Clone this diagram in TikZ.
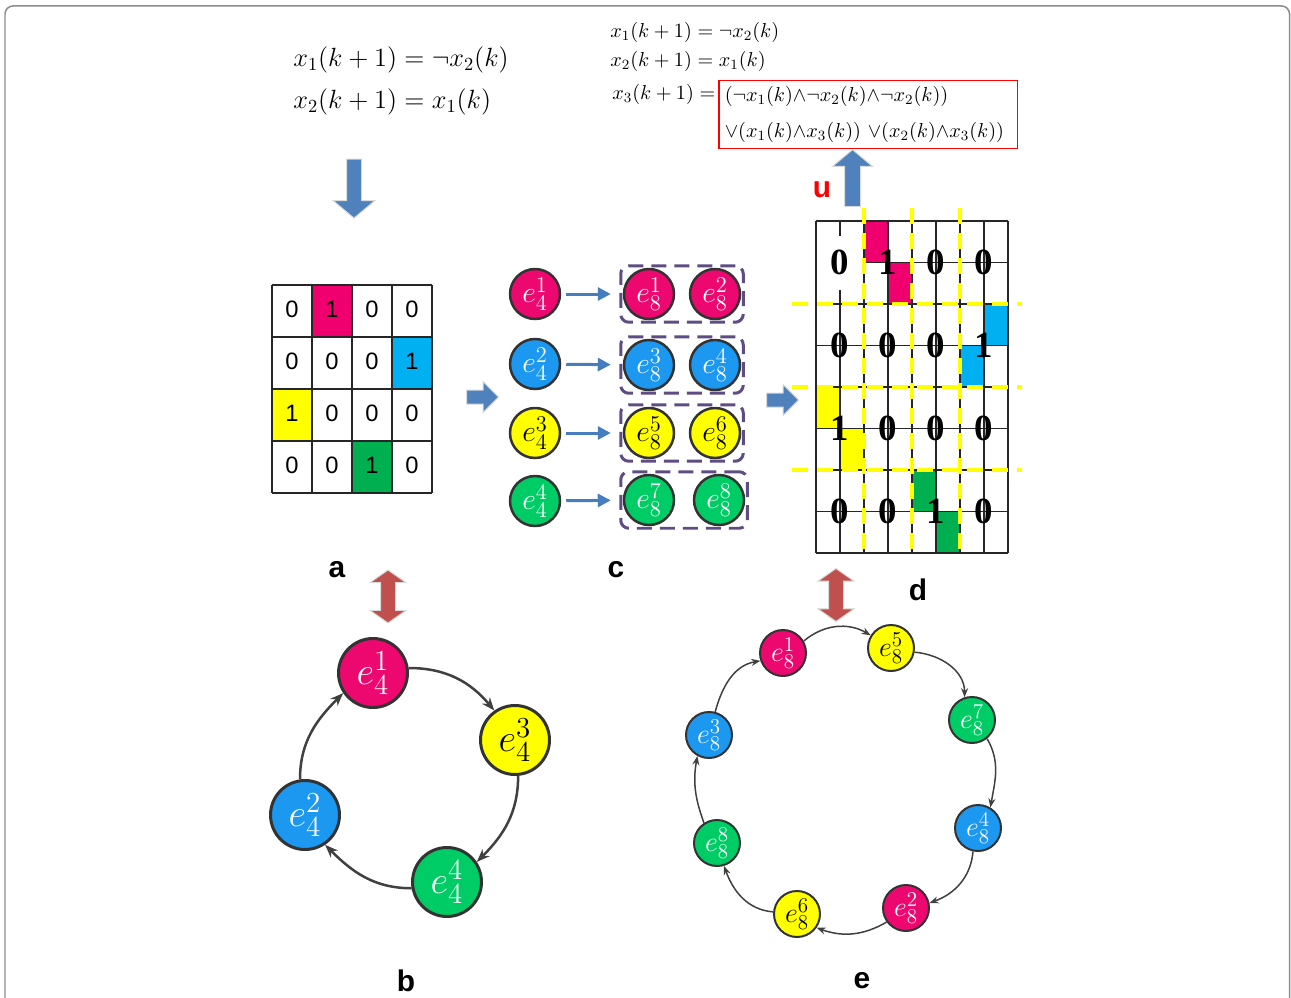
\RequirePackage{fix-cm}
\documentclass[tikz,border=0pt]{standalone}
\usepackage{fontspec}
\setsansfont{Liberation Sans}
\newfontfamily\cellserif{Liberation Serif}
\usetikzlibrary{positioning,fit,arrows.meta,shapes.arrows}
\DeclareMathSizes{22}{22}{16.5}{12}
\DeclareMathSizes{17}{17}{12.8}{10}
\DeclareMathSizes{16}{16}{12}{9}
\definecolor{epink}{RGB}{236,8,110}
\definecolor{eblue}{RGB}{28,152,240}
\definecolor{eyellow}{RGB}{255,255,0}
\definecolor{egreen}{RGB}{0,204,102}
\definecolor{mpink}{RGB}{240,0,110}
\definecolor{mcyan}{RGB}{0,176,240}
\definecolor{mgreen}{RGB}{0,176,80}
\definecolor{arrblue}{RGB}{79,129,189}
\definecolor{arrred}{RGB}{192,80,77}
\definecolor{grpcol}{RGB}{94,76,130}
\definecolor{linkblue}{RGB}{70,125,190}
\begin{document}
\begin{tikzpicture}[x=0.02cm,y=0.02cm,inner sep=0pt,
bignode/.style={circle,draw=black!80,line width=0.06cm,minimum size=1.38cm,font=\fontsize{22}{22}\selectfont},
pairnode/.style={circle,draw=black!80,line width=0.05cm,minimum size=1cm,font=\fontsize{17}{17}\selectfont},
ringnode/.style={circle,draw=black!80,line width=0.04cm,minimum size=0.92cm,font=\fontsize{16}{16}\selectfont},
pk/.style={fill=epink,text=white},bl/.style={fill=eblue,text=white},
yl/.style={fill=eyellow,text=black},gr/.style={fill=egreen,text=white},
grp/.style={draw=grpcol,line width=0.06cm,rounded corners=0.16cm,dash pattern=on 0.3cm off 0.16cm,inner sep=0.04cm},
linkarr/.style={draw=linkblue,line width=0.06cm,-{Triangle[length=0.26cm,width=0.26cm]},shorten <=0.1cm,shorten >=0.24cm},
cycarr/.style={draw=black!75,line width=0.05cm,-{Stealth[length=0.26cm,width=0.2cm]}},
cycarrs/.style={draw=black!75,line width=0.03cm,-{Stealth[length=0.18cm,width=0.14cm]}},
bluearr/.style={single arrow,fill=arrblue,draw=black!15,line width=0.02cm,inner xsep=0pt},
redarr/.style={double arrow,fill=arrred,draw=black!15,line width=0.02cm,inner xsep=0pt,inner ysep=0.14cm,
  double arrow head extend=0.21cm,double arrow tip angle=110,minimum height=1.06cm,rotate=90},
panel/.style={font=\sffamily\bfseries\fontsize{17}{17}\selectfont},
eqbig/.style={anchor=west,font=\fontsize{15}{15}\selectfont},
eqsmall/.style={anchor=west,font=\fontsize{11.5}{12}\selectfont},
cellline/.style={draw=black!85,line width=0.03cm},
yline/.style={draw=eyellow,line width=0.08cm,dash pattern=on 0.32cm off 0.18cm}]
\useasboundingbox (0,0) rectangle (1291,-997);
\draw[gray!90,line width=0.03cm,rounded corners=0.16cm] (5,-6) rectangle (1289.5,-1020);

% equations
\node[eqbig] (p1) at (293,-60) {$x_1(k+1)=\neg x_2(k)$};
\node[eqbig] (p2) at (293,-102) {$x_2(k+1)=x_1(k)$};
\node[eqsmall] (q1) at (610,-32) {$x_1(k+1)=\neg x_2(k)$};
\node[eqsmall] (q2) at (610,-61) {$x_2(k+1)=x_1(k)$};
\node[eqsmall] (q3) at (612,-94) {$x_3(k+1)=$};
\node[draw=red,line width=0.03cm,anchor=north west,inner xsep=0.12cm,text width=5.74cm,minimum height=1.36cm,
  align=left,font=\fontsize{11.5}{12}\selectfont] (rb) at (718,-80)
  {$(\neg x_1(k){\wedge}\neg x_2(k){\wedge}\neg x_2(k))$\\[0.3cm]$\mathord{\vee}(x_1(k){\wedge}x_3(k))\ \mathord{\vee}(x_2(k){\wedge}x_3(k))$};

% block arrows
\node[bluearr,rotate=-90,inner ysep=0.14cm,single arrow head extend=0.27cm,single arrow tip angle=100,minimum height=1.18cm] (dn) at (354,-185.5) {};
\node[bluearr,rotate=90,inner ysep=0.15cm,single arrow head extend=0.24cm,single arrow tip angle=100,minimum height=1.14cm] (up) at (852.5,-181.5) {};
\node[bluearr,inner ysep=0.13cm,single arrow head extend=0.17cm,minimum height=0.64cm] (ra1) at (479,-397) {};
\node[bluearr,inner ysep=0.13cm,single arrow head extend=0.17cm,minimum height=0.64cm] (ra2) at (779,-400) {};
\node[redarr] (rd1) at (388,-596.5) {};
\node[redarr] (rd2) at (836,-595) {};
\node[panel,text=red] (u) at (822,-190) {u};

% matrix a
\foreach \r/\c/\col in {0/1/mpink,1/3/mcyan,2/0/eyellow,3/2/mgreen}
  \fill[\col] ({272+40*\c},{-285-52*\r}) rectangle ++(40,-52);
\foreach \i in {0,...,4} {
  \draw[cellline] ({272+40*\i},-285) -- ({272+40*\i},-493);
  \draw[cellline] (272,{-285-52*\i}) -- (432,{-285-52*\i});
}
\foreach \v [count=\i from 0] in {0,1,0,0,0,0,0,1,1,0,0,0,0,0,1,0}
  \node[font=\sffamily\fontsize{13.5}{14}\selectfont] (ma\i) at ({292+40*mod(\i,4)},{-309-52*div(\i,4)}) {\v};
\node[panel] (la) at (337,-570) {a};

% pairs c
\node[pairnode,pk] (c41) at (535,-294) {$e_4^1$};
\node[pairnode,bl] (c42) at (535,-364) {$e_4^2$};
\node[pairnode,yl] (c43) at (535,-433) {$e_4^3$};
\node[pairnode,gr] (c44) at (535,-501) {$e_4^4$};
\node[pairnode,pk] (c81) at (649,-294) {$e_8^1$};
\node[pairnode,pk] (c82) at (715,-294) {$e_8^2$};
\node[pairnode,bl] (c83) at (649,-365) {$e_8^3$};
\node[pairnode,bl] (c84) at (715,-365) {$e_8^4$};
\node[pairnode,yl] (c85) at (649,-433) {$e_8^5$};
\node[pairnode,yl] (c86) at (715,-433) {$e_8^6$};
\node[pairnode,gr] (c87) at (649,-500) {$e_8^7$};
\node[pairnode,gr] (c88) at (719,-500) {$e_8^8$};
\node[grp,fit=(c81)(c82)] (g1) {};
\node[grp,fit=(c83)(c84)] (g2) {};
\node[grp,fit=(c85)(c86)] (g3) {};
\node[grp,fit=(c87)(c88)] (g4) {};
\draw[linkarr] (c41) -- (c81);
\draw[linkarr] (c42) -- (c83);
\draw[linkarr] (c43) -- (c85);
\draw[linkarr] (c44) -- (c87);
\node[panel] (lc) at (616,-570) {c};

% matrix d
\foreach \r/\c/\col in {0/2/mpink,1/3/mpink,2/7/mcyan,3/6/mcyan,4/0/eyellow,5/1/eyellow,6/4/mgreen,7/5/mgreen}
  \fill[\col] ({816+24*\c},{-221-41.5*\r}) rectangle ++(24,-41.5);
\foreach \i in {0,...,8} {
  \draw[cellline] ({816+24*\i},-221) -- ({816+24*\i},-553);
  \draw[cellline] (816,{-221-41.5*\i}) -- (1008,{-221-41.5*\i});
}
\fill[white] (817,-236) rectangle (862,-290);
\foreach \v [count=\i from 0] in {0,1,0,0,0,0,0,1,1,0,0,0,0,0,1,0}
  \node[font=\cellserif\bfseries\fontsize{21}{21}\selectfont] (md\i) at ({840+48*mod(\i,4)},{-262.5-83*div(\i,4)}) {\v};
\foreach \x in {864,912,960} \draw[yline] (\x,-208) -- (\x,-556);
\foreach \y in {304,387,470} \draw[yline] (792,-\y) -- (1022,-\y);
\node[panel] (ld) at (918,-590) {d};

% cycle b
\node[bignode,pk] (b1) at (373,-673) {$e_4^1$};
\node[bignode,yl] (b3) at (515,-740) {$e_4^3$};
\node[bignode,bl] (b2) at (305,-815) {$e_4^2$};
\node[bignode,gr] (b4) at (447,-882) {$e_4^4$};
\draw[cycarr] (b1.8) to[out=0,in=130] (b3.125);
\draw[cycarr] (b3.-85) to[out=-90,in=45] (b4.34);
\draw[cycarr] (b4.190) to[out=180,in=-45] (b2.-56);
\draw[cycarr] (b2.98) to[out=90,in=-135] (b1.-146);
\node[panel] (lb) at (406,-981) {b};

% cycle e
\node[ringnode,pk] (e1) at (783,-653) {$e_8^1$};
\node[ringnode,yl] (e5) at (891,-648) {$e_8^5$};
\node[ringnode,gr] (e7) at (972,-720) {$e_8^7$};
\node[ringnode,bl] (e4) at (978,-828) {$e_8^4$};
\node[ringnode,pk] (e2) at (906,-908) {$e_8^2$};
\node[ringnode,yl] (e6) at (797,-914) {$e_8^6$};
\node[ringnode,gr] (e8) at (717,-843) {$e_8^8$};
\node[ringnode,bl] (e3) at (709,-735) {$e_8^3$};
\draw[cycarrs] (e1.30) to[out=40,in=150] (e5.148);
\draw[cycarrs] (e5.-10) to[out=-5,in=90] (e7.108);
\draw[cycarrs] (e7.-51) to[out=-60,in=80] (e4.59);
\draw[cycarrs] (e4.-102) to[out=-95,in=20] (e2.12);
\draw[cycarrs] (e2.-144) to[out=-150,in=-20] (e6.-35);
\draw[cycarrs] (e6.175) to[out=175,in=-70] (e8.-73);
\draw[cycarrs] (e8.123) to[out=110,in=-100] (e3.-119);
\draw[cycarrs] (e3.75) to[out=75,in=-170] (e1.-161);
\node[panel] (le) at (862,-981) {e};
\end{tikzpicture}
\end{document}
